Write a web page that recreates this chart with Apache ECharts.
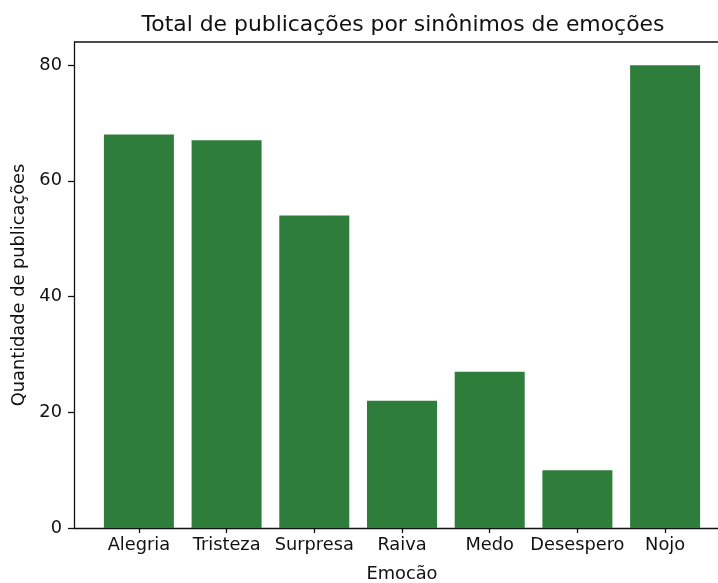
<!DOCTYPE html>
<html><head><meta charset="utf-8">
<script src="https://cdn.jsdelivr.net/npm/echarts@6/dist/echarts.min.js"></script>
<style>html,body{margin:0;padding:0;background:#fff}#c{width:718px;height:583px}</style>
</head><body><div id="c"></div>
<script>
const categories = ['Alegria','Tristeza','Surpresa','Raiva','Medo','Desespero','Nojo'];
const values = [68, 67, 54, 22, 27, 10, 80];
const yTicks = [0, 20, 40, 60, 80];

const chart = echarts.init(document.getElementById('c'), null, {renderer:'canvas'});
const font = 'DejaVu Sans';
const fs = 17.8;
const idx = categories.map((_, i) => i);
chart.setOption({
  animation: false,
  title: {text: 'Total de publicações por sinônimos de emoções', left: 398, top: 9, textAlign: 'center',
    textStyle: {fontFamily: font, fontSize: 21.9, fontWeight: 'normal', color: '#111'}},
  grid: {left: 74, top: 42, width: 656, bottom: 55, containLabel: false, outerBoundsMode: 'none'},
  xAxis: {type: 'value', min: -0.74, max: 6.74,
    axisLine: {show: true, onZero: false, lineStyle: {color: '#111', width: 1.3}},
    axisTick: {show: true, length: 5, customValues: idx, lineStyle: {color: '#111', width: 1.3}},
    axisLabel: {customValues: idx, formatter: v => categories[Math.round(v)], fontFamily: font, fontSize: fs, color: '#111', margin: 8},
    splitLine: {show: false},
    name: 'Emocão', nameLocation: 'middle', nameGap: 37,
    nameTextStyle: {fontFamily: font, fontSize: fs, color: '#111'}},
  yAxis: {type: 'value', min: 0, max: 84,
    axisLine: {show: true, onZero: false, lineStyle: {color: '#111', width: 1.3}},
    axisTick: {show: true, length: 6, customValues: yTicks, lineStyle: {color: '#111', width: 1.3}},
    axisLabel: {customValues: yTicks, fontFamily: font, fontSize: fs, color: '#111', margin: 12},
    splitLine: {show: false},
    name: 'Quantidade de publicações', nameLocation: 'middle', nameGap: 46,
    nameTextStyle: {fontFamily: font, fontSize: fs, color: '#111'}},
  series: [{type: 'bar', data: values.map((v, i) => [i, v]), barWidth: 70,
    itemStyle: {color: '#2E7D3A'}}],
  graphic: [{type: 'line', shape: {x1: 74, y1: 42, x2: 718, y2: 42}, style: {stroke: '#111', lineWidth: 1.3}}]
});
</script></body></html>
